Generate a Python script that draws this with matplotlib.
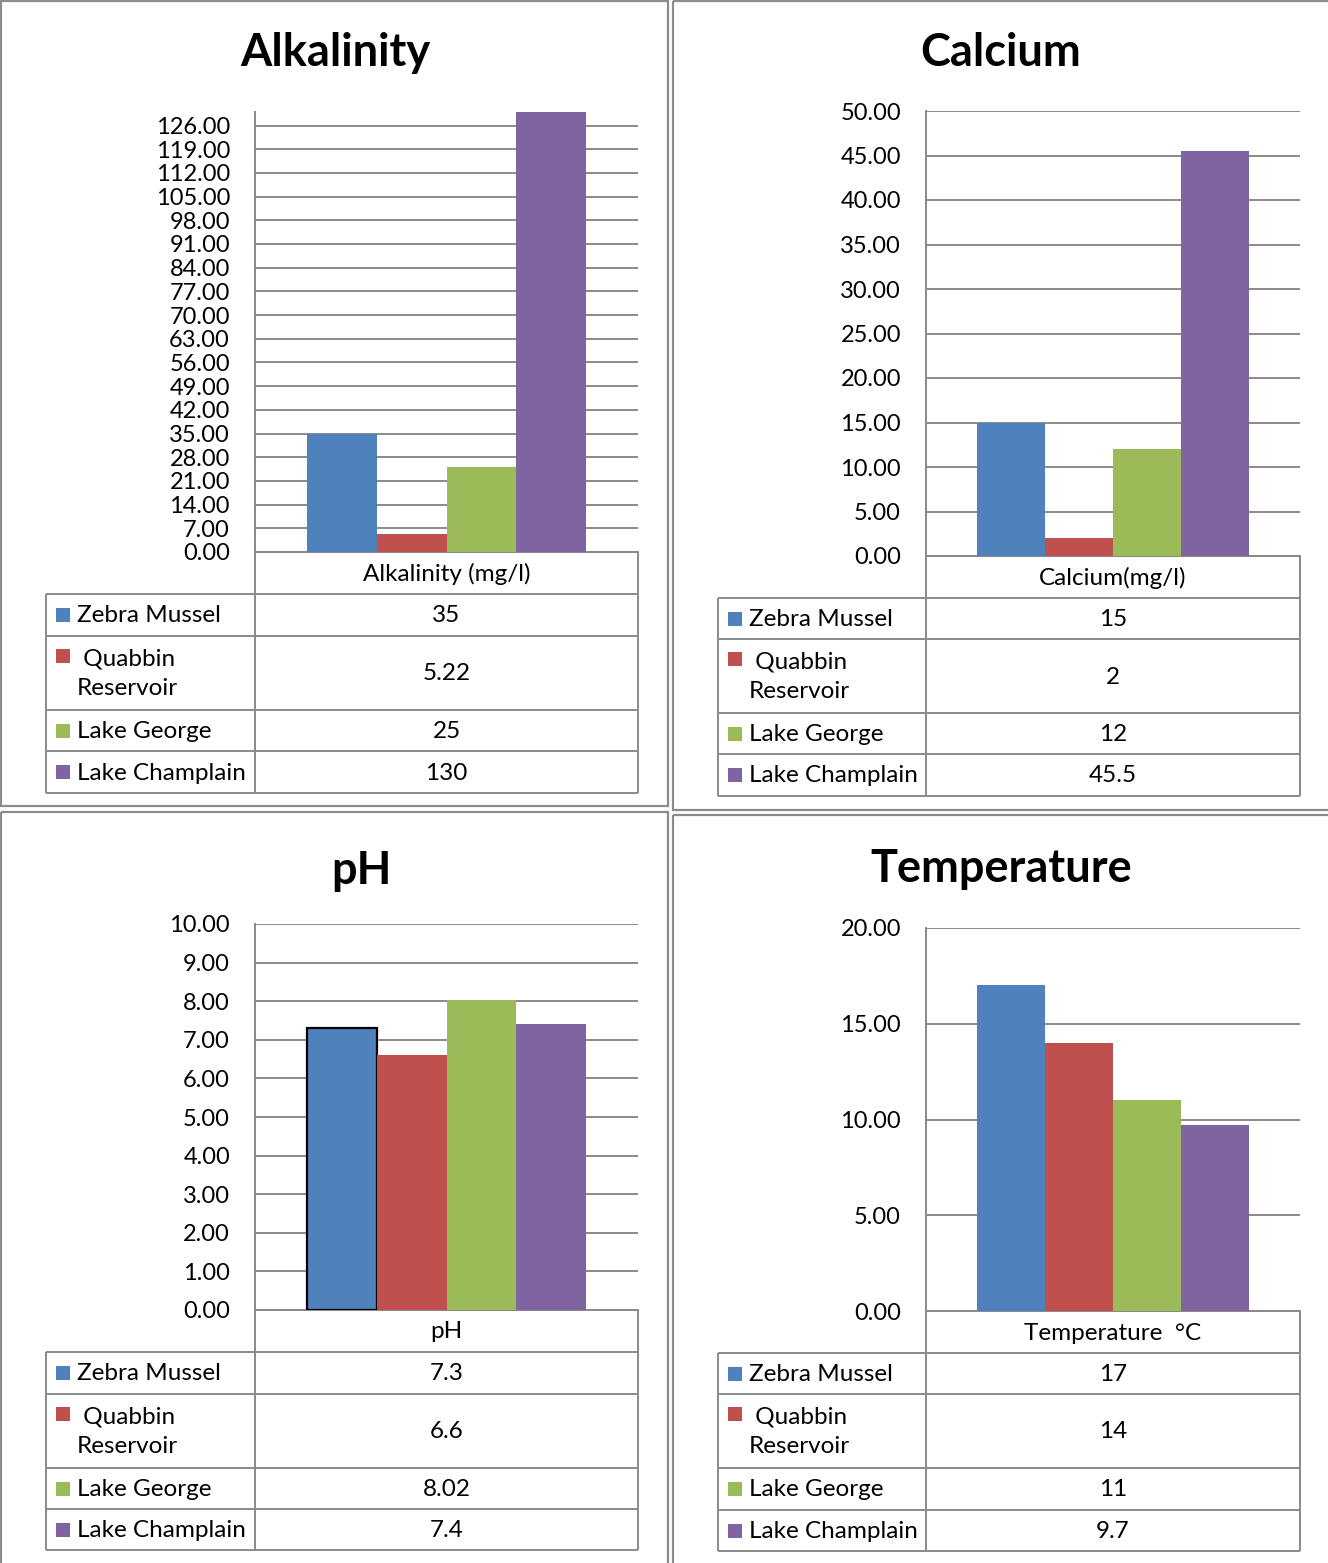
import matplotlib
matplotlib.use("Agg")
import matplotlib.pyplot as plt
from matplotlib.patches import Rectangle

plt.rcParams['font.family'] = ['Lato', 'DejaVu Sans']

# ---- data -------------------------------------------------------------
sites = ["Zebra Mussel", " Quabbin\nReservoir", "Lake George", "Lake Champlain"]
colors = ["#4F81BD", "#C0504D", "#9BBB59", "#8064A2"]

alkalinity = [35, 5.22, 25, 130]
calcium = [15, 2, 12, 45.5]
ph = [7.3, 6.6, 8.02, 7.4]
temperature = [17, 14, 11, 9.7]

titles = ["Alkalinity", "Calcium", "pH", "Temperature"]
headers = ["Alkalinity (mg/l)", "Calcium(mg/l)", "pH", "Temperature  \u00b0C"]
y_limits = [130, 50, 10, 20]
y_steps = [7, 5, 1, 5]

# ---- layout (pixels) --------------------------------------------------
W, H = 1328, 1563
GRID = "#8a8a8a"
FS = 17.5

fig = plt.figure(figsize=(W / 100, H / 100), dpi=100)
fig.patch.set_facecolor("white")

# overlay in pixel coordinates for frames, titles and data tables
ov = fig.add_axes([0, 0, 1, 1], zorder=0)
ov.set_xlim(0, W)
ov.set_ylim(H, 0)
ov.axis("off")

panels = [
    # frame box, title pos, plot area (x0, x1, ytop, ybottom), table columns, row edges
    dict(frame=(1, 1, 668, 806), tpos=(335, 53), plot=(255, 638, 112, 552),
         cols=(46, 255, 638), rows=(552, 594, 636, 710, 751, 793)),
    dict(frame=(673, 1, 1330, 810), tpos=(1001, 53), plot=(926, 1300, 111, 556),
         cols=(718, 926, 1300), rows=(556, 598, 639, 713, 754, 796)),
    dict(frame=(1, 812, 668, 1565), tpos=(361, 871), plot=(255, 638, 924, 1310),
         cols=(46, 255, 638), rows=(1310, 1352, 1394, 1468, 1509, 1550)),
    dict(frame=(673, 815, 1330, 1565), tpos=(1001, 869), plot=(926, 1300, 928, 1311),
         cols=(718, 926, 1300), rows=(1311, 1353, 1394, 1468, 1510, 1551)),
]
series = [alkalinity, calcium, ph, temperature]

bar_w = 0.182
for k, p in enumerate(panels):
    values = series[k]
    fx0, fy0, fx1, fy1 = p["frame"]
    ov.add_patch(Rectangle((fx0, fy0), fx1 - fx0, fy1 - fy0, fill=False,
                           edgecolor="#8c8c8c", lw=1.6))
    ov.text(p["tpos"][0], p["tpos"][1], titles[k], ha="center", va="center",
            fontsize=32.5, fontweight="bold", color="black")

    # bar chart area
    x0, x1, yt, yb = p["plot"]
    ax = fig.add_axes([x0 / W, 1 - yb / H, (x1 - x0) / W, (yb - yt) / H], zorder=2)
    ax.patch.set_alpha(0)
    ax.set_xlim(0, 1)
    ax.set_ylim(0, y_limits[k])
    step = y_steps[k]
    ticks = [i * step for i in range(int(y_limits[k] // step) + 1)]
    ax.set_yticks(ticks)
    ax.set_yticklabels([f"{t:.2f}" for t in ticks])
    ax.tick_params(axis="y", length=0, pad=18, labelsize=17)
    ax.set_xticks([])
    ax.yaxis.grid(True, color=GRID, lw=1.4)
    ax.set_axisbelow(True)
    for s in ("top", "right"):
        ax.spines[s].set_visible(False)
    for s in ("left", "bottom"):
        ax.spines[s].set_color(GRID)
        ax.spines[s].set_linewidth(1.4)
    for i, v in enumerate(values):
        edge = "black" if k == 2 and i == 0 else "none"
        ax.bar(0.5 + (i - 1.5) * bar_w, v, width=bar_w, color=colors[i],
               edgecolor=edge, lw=1.6, zorder=3, clip_on=True)

    # data table below the chart
    c0, c1, c2 = p["cols"]
    r = p["rows"]
    lk = dict(color=GRID, lw=1.4, solid_capstyle="butt")
    ov.plot([c1, c2], [r[0], r[0]], **lk)
    ov.plot([c1, c1], [r[0], r[-1]], **lk)
    ov.plot([c2, c2], [r[0], r[-1]], **lk)
    ov.plot([c0, c0], [r[1], r[-1]], **lk)
    for y in r[1:]:
        ov.plot([c0, c2], [y, y], **lk)
    ov.text((c1 + c2) / 2, (r[0] + r[1]) / 2 + 1, headers[k], ha="center",
            va="center", fontsize=FS)
    for i in range(4):
        ya, yb2 = r[i + 1], r[i + 2]
        ym = (ya + yb2) / 2
        ov.text((c1 + c2) / 2, ym + 1, f"{values[i]:g}", ha="center",
                va="center", fontsize=FS)
        if "\n" in sites[i]:
            sq_y = ya + 20
            ov.text(c0 + 31, ym + 1, sites[i], ha="left", va="center",
                    fontsize=FS, linespacing=1.5)
        else:
            sq_y = ym
            ov.text(c0 + 31, ym + 1, sites[i], ha="left", va="center", fontsize=FS)
        ov.add_patch(Rectangle((c0 + 10, sq_y - 7), 14, 14, color=colors[i], lw=0))

fig.savefig("out.png", dpi=100, facecolor="white")
